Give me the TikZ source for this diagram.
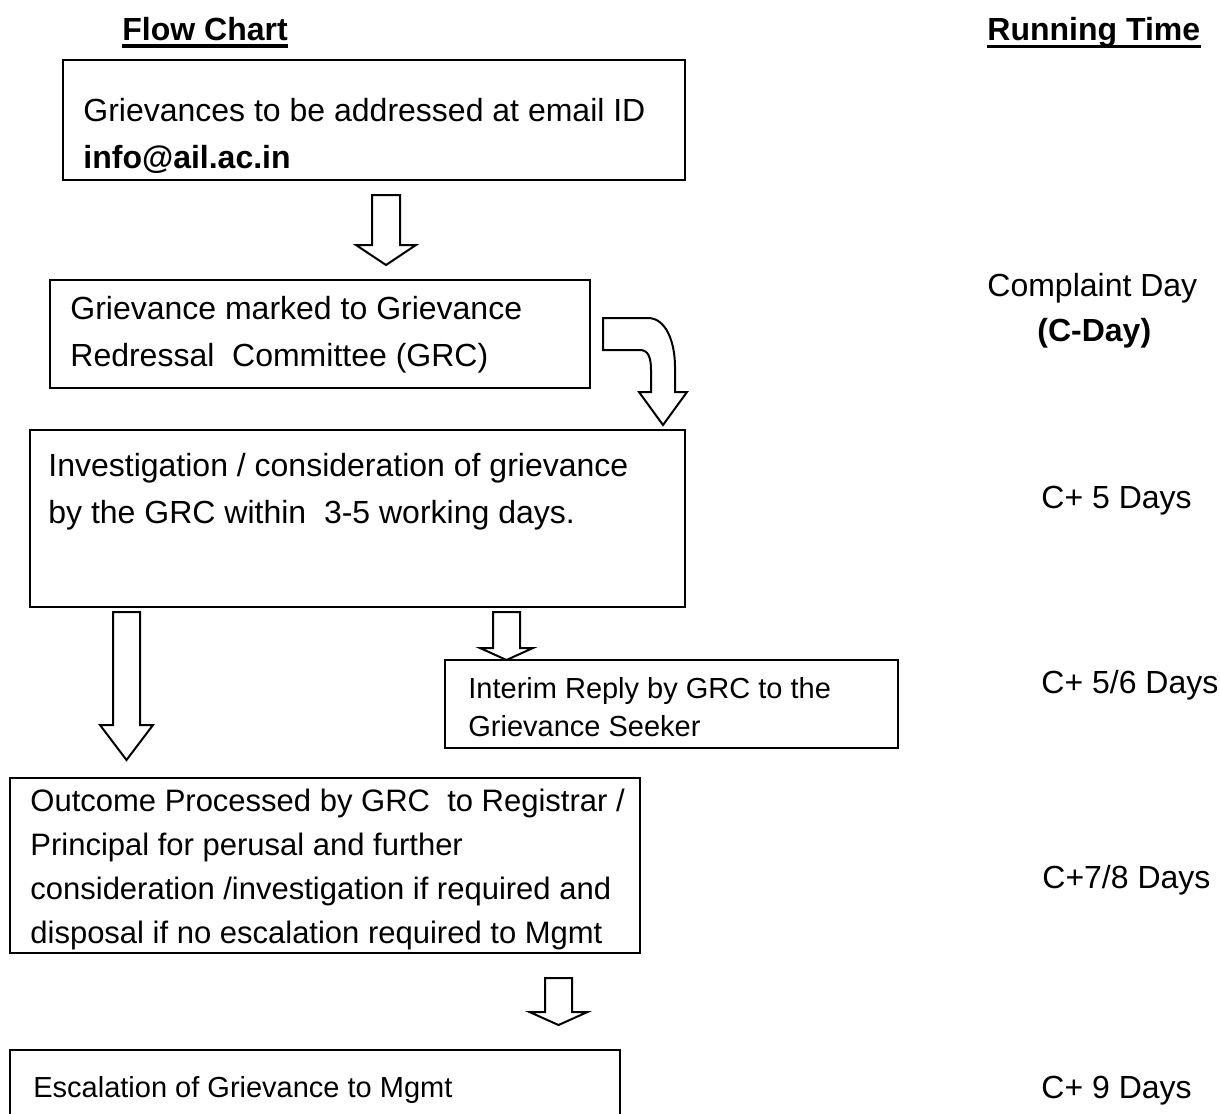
\documentclass[tikz,border=0pt]{standalone}
\usepackage{fontspec}
\setmainfont{Liberation Sans}
\newcommand{\blkarrow}[6]{% cx, top, shaft end, tip, shaft half width, head half width
  \draw[barrow] ({#1-#5},#2) -- ({#1+#5},#2) -- ({#1+#5},#3) -- ({#1+#6},#3) -- (#1,#4) -- ({#1-#6},#3) -- ({#1-#5},#3) -- cycle;}
\tikzset{
  frame/.style={draw=black, line width=1.1pt},
  barrow/.style={draw=black, line width=1pt, fill=white, line join=miter},
  txt/.style={anchor=north west, inner sep=0pt, align=left, font=\fontsize{16}{23.5}\selectfont},
  mtxt/.style={anchor=north west, inner sep=0pt, align=left, font=\fontsize{15.5}{22}\selectfont},
  stxt/.style={anchor=north west, inner sep=0pt, align=left, font=\fontsize{14.5}{19}\selectfont},
  rt/.style={anchor=base west, inner sep=0pt, font=\fontsize{16}{21.5}\selectfont},
  rtb/.style={rt, font=\bfseries\fontsize{16}{21.5}\selectfont},
  uline/.style={line width=1.75pt}
}
\begin{document}
\begin{tikzpicture}[x=0.5pt,y=-0.5pt]
\useasboundingbox (0,0) rectangle (1220,1113);
\fill[white] (0,0) rectangle (1220,1113);

% headings
\node[rtb] (fc) at (122,41) {Flow Chart};
\draw[uline] ([yshift=-2.5pt]fc.base west) -- ([yshift=-2.5pt]fc.base east);
\node[rtb] (rtime) at (987,41) {Running Time};
\draw[uline] ([yshift=-2.8pt]rtime.base west) -- ([yshift=-2.8pt]rtime.base east);

% box 1
\draw[frame] (63,60) coordinate (b1nw) rectangle (685,180) coordinate (b1se);
\node[txt] (t1) at (83,88.1) {\strut Grievances to be addressed at email ID\\\textbf{info@ail.ac.in}};

% arrow 1
\blkarrow{386}{195}{245}{265}{14}{30}

% box 2
\draw[frame] (50,280) coordinate (b2nw) rectangle (590,388) coordinate (b2se);
\node[txt] (t2) at (70,286.1) {\strut Grievance marked to Grievance\\Redressal~ Committee (GRC)};

% curved arrow
\draw[barrow] (603,318) -- (648,318) .. controls (666,318) and (675,342) .. (675,367)
  -- (675,392) -- (687,392) -- (663,425) -- (639,392) -- (651,392) -- (651,370)
  .. controls (651,357) and (648,350) .. (640,350) -- (603,350) -- cycle;

% box 3
\draw[frame] (30,430) coordinate (b3nw) rectangle (685,607) coordinate (b3se);
\node[txt] (t3) at (48,443.1) {\strut Investigation / consideration of grievance\\by the GRC within~ 3-5 working days.};

% arrows from box 3
\blkarrow{126.5}{612}{725}{760}{13.5}{26.5}
\blkarrow{506.5}{612}{648}{660}{13.5}{26.5}

% interim box
\draw[frame] (445,660) coordinate (b4nw) rectangle (898,748) coordinate (b4se);
\node[stxt] (t4) at (468,671.4) {\strut Interim Reply by GRC to the\\Grievance Seeker};

% box 5
\draw[frame] (10,778) coordinate (b5nw) rectangle (640,953) coordinate (b5se);
\node[mtxt] (t5) at (30,780.2) {\strut Outcome Processed by GRC~ to Registrar /\\Principal for perusal and further\\consideration /investigation if required and\\disposal if no escalation required to Mgmt};

% arrow to box 6
\blkarrow{558.5}{978}{1012}{1025}{13.5}{29}

% box 6 (cut by the page edge)
\draw[frame] (10,1125) coordinate (b6sw) -- (10,1050) -- (620,1050) -- (620,1125) coordinate (b6se);
\node[anchor=base west, inner sep=0pt, font=\fontsize{14.5}{19}\selectfont] (t6) at (33,1097) {Escalation of Grievance to Mgmt};

% running time column
\node[rt] (r1) at (987,296) {Complaint Day};
\node[rtb] (r1b) at (1037,341) {(C-Day)};
\node[rt] (r2) at (1041,508) {C+ 5 Days};
\node[rt] (r3) at (1041,693) {C+ 5/6 Days};
\node[rt] (r4) at (1042,888) {C+7/8 Days};
\node[rt] (r5) at (1041,1098) {C+ 9 Days};
\end{tikzpicture}
\end{document}
